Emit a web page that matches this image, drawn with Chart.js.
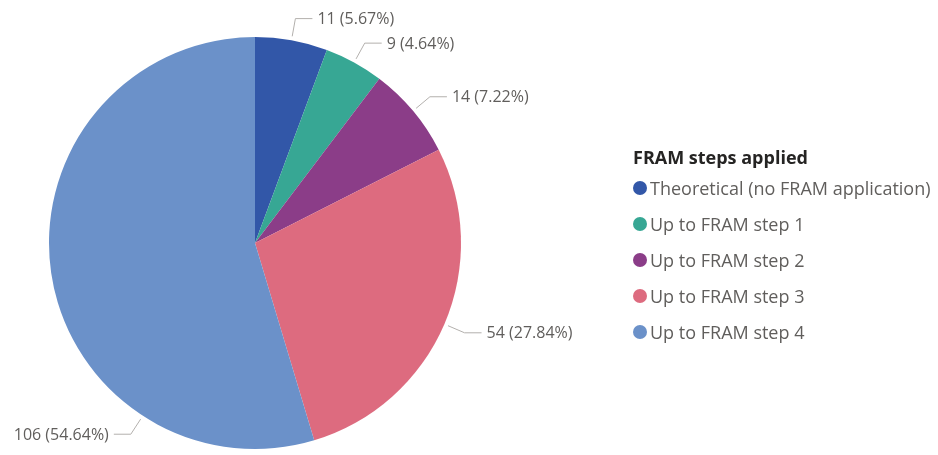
<!DOCTYPE html>
<html>
<head>
<meta charset="utf-8">
<script src="https://cdn.jsdelivr.net/npm/chart.js@4"></script>
<style>
  body { margin: 0; background: #fff; }
  #wrap { position: relative; width: 938px; height: 455px; }
  #legend {
    position: absolute; left: 633px; top: 144px;
    font-family: "Segoe UI", "Open Sans", sans-serif;
  }
  #legend .title { font-size: 18px; font-weight: bold; color: #252423; line-height: 26px; }
  #legend .item { font-size: 18px; color: #605E5C; line-height: 36px; display: flex; align-items: center; white-space: nowrap; }
  #legend .dot { width: 14px; height: 14px; border-radius: 50%; margin-right: 3px; flex: none; }
</style>
</head>
<body>
<div id="wrap">
  <canvas id="pie" width="938" height="455"></canvas>
  <div id="legend"></div>
</div>
<script>
const categories = [
  'Theoretical (no FRAM application)',
  'Up to FRAM step 1',
  'Up to FRAM step 2',
  'Up to FRAM step 3',
  'Up to FRAM step 4'
];
const counts = [11, 9, 14, 54, 106];
const colors = ['#3257A8', '#37A794', '#8B3D88', '#DD6B7F', '#6B91C9'];
const legendTitle = 'FRAM steps applied';

// draws "value (pct%)" labels with bent leader lines
const leaderLabels = {
  id: 'leaderLabels',
  afterDraw(chart, args, opts) {
    const ctx = chart.ctx;
    const meta = chart.getDatasetMeta(0);
    const data = chart.data.datasets[0].data;
    const total = data.reduce((a, b) => a + b, 0);
    ctx.save();
    ctx.font = opts.font;
    ctx.strokeStyle = '#B3B0AD';
    ctx.fillStyle = '#605E5C';
    ctx.lineWidth = 1;
    meta.data.forEach((arc, i) => {
      const p = arc.getProps(['x', 'y', 'startAngle', 'endAngle', 'outerRadius'], true);
      let a = (p.startAngle + p.endAngle) / 2;
      if (opts.anchorAngles && opts.anchorAngles[i] != null) a = opts.anchorAngles[i] * Math.PI / 180;
      const cos = Math.cos(a), sin = Math.sin(a);
      const x1 = p.x + cos * (p.outerRadius + 4), y1 = p.y + sin * (p.outerRadius + 4);
      const x2 = p.x + cos * (p.outerRadius + 22), y2 = p.y + sin * (p.outerRadius + 22);
      const dir = cos >= 0 ? 1 : -1;
      const x3 = x2 + dir * 17;
      ctx.beginPath();
      ctx.moveTo(x1, y1);
      ctx.lineTo(x2, y2);
      ctx.lineTo(x3, y2);
      ctx.stroke();
      const pct = (data[i] / total * 100).toFixed(2);
      ctx.textAlign = dir > 0 ? 'left' : 'right';
      ctx.textBaseline = 'middle';
      ctx.fillText(data[i] + ' (' + pct + '%)', x3 + dir * 5, y2 + 1);
    });
    ctx.restore();
  }
};

new Chart(document.getElementById('pie'), {
  type: 'pie',
  data: {
    labels: categories,
    datasets: [{
      data: counts,
      backgroundColor: colors,
      borderWidth: 0
    }]
  },
  options: {
    responsive: false,
    animation: false,
    layout: { padding: { left: 49, right: 477, top: 37, bottom: 6 } },
    plugins: {
      legend: { display: false },
      tooltip: { enabled: false },
      leaderLabels: {
        font: '16px "Segoe UI", "Open Sans", sans-serif',
        anchorAngles: [null, null, null, null, 123]
      }
    }
  },
  plugins: [leaderLabels]
});

// html legend built from the same arrays
const legend = document.getElementById('legend');
const title = document.createElement('div');
title.className = 'title';
title.textContent = legendTitle;
legend.appendChild(title);
categories.forEach((name, i) => {
  const row = document.createElement('div');
  row.className = 'item';
  row.innerHTML = '<span class="dot" style="background:' + colors[i] + '"></span>' + name;
  legend.appendChild(row);
});
</script>
</body>
</html>
